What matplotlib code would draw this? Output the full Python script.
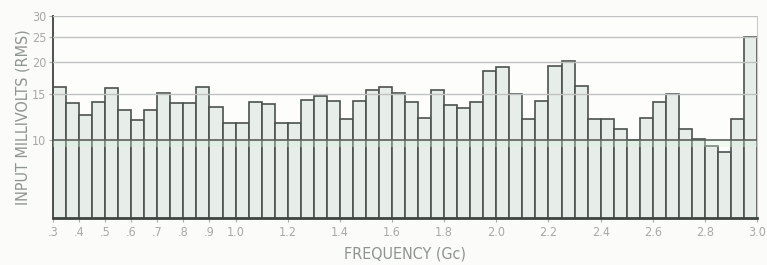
import numpy as np
import matplotlib.pyplot as plt
from matplotlib.ticker import FixedLocator, NullLocator

# bar heights, one per 0.05 Gc step from 0.3 to 3.0 Gc
start_gc = 0.3
step_gc = 0.05
millivolts = [16.0, 13.9, 12.5, 14.0, 15.8, 13.0, 11.9, 13.0, 15.1, 13.9,
              13.9, 16.0, 13.4, 11.6, 11.6, 14.0, 13.7, 11.6, 11.6, 14.2,
              14.7, 14.1, 12.0, 14.1, 15.5, 16.0, 15.2, 14.0, 12.1, 15.5,
              13.6, 13.3, 14.0, 18.4, 19.1, 15.0, 12.0, 14.1, 19.2, 20.1,
              16.1, 12.0, 12.0, 11.05, 10.0, 12.1, 14.0, 15.0, 11.0, 10.1,
              9.5, 9.0, 12.0, 25.0]

x_ticks = [0.3, 0.4, 0.5, 0.6, 0.7, 0.8, 0.9, 1.0, 1.2, 1.4, 1.6, 1.8,
           2.0, 2.2, 2.4, 2.6, 2.8, 3.0]
x_labels = ['.3', '.4', '.5', '.6', '.7', '.8', '.9', '1.0', '1.2', '1.4',
            '1.6', '1.8', '2.0', '2.2', '2.4', '2.6', '2.8', '3.0']
y_ticks = [10, 15, 20, 25, 30]
y_labels = ['10', '15', '20', '25', '30']

plt.rcParams['font.family'] = ['DejaVu Sans']
plt.rcParams['font.stretch'] = 'condensed'

fig = plt.figure(figsize=(7.67, 2.65), dpi=100, facecolor='#fbfbfa')
ax = fig.add_axes([0.0691, 0.1774, 0.918, 0.7622])
ax.set_facecolor('#fdfdfc')

edges = start_gc + step_gc * np.arange(len(millivolts))
ax.bar(edges, millivolts, width=step_gc, align='edge', color='#e7ede9',
       edgecolor='#4c514e', linewidth=1.2, zorder=2)

ax.set_yscale('log')
ax.set_ylim(5, 30)
ax.set_xlim(0.3, 3.0)

# faint green tint just under the 10 mV line
ax.axhspan(9.4, 10, color='#d6f2da', alpha=0.35, lw=0, zorder=3)
for v in [15, 20, 25, 30]:
    ax.axhline(v, color='#bfc2c0', lw=1.0, zorder=3)
ax.axhline(10, color='#5a5f5c', lw=1.2, zorder=3)

ax.yaxis.set_major_locator(FixedLocator(y_ticks))
ax.yaxis.set_minor_locator(NullLocator())
ax.set_yticklabels(y_labels)
ax.set_xticks(x_ticks)
ax.set_xticklabels(x_labels)

ax.tick_params(axis='both', colors='#a6a9a7', labelsize=9, length=3, width=0.8)
ax.tick_params(axis='y', pad=2)
ax.tick_params(axis='x', pad=3)

ax.spines['top'].set_visible(False)
ax.spines['right'].set_color('#c8cac9')
ax.spines['left'].set_color('#4c514e')
ax.spines['left'].set_linewidth(1.4)
ax.spines['bottom'].set_color('#3f4441')
ax.spines['bottom'].set_linewidth(2.0)

ax.set_xlabel('FREQUENCY (Gc)', color='#8e9491', fontsize=11.5, labelpad=5)
ax.set_ylabel('INPUT MILLIVOLTS (RMS)', color='#8e9491', fontsize=11.5, labelpad=1)

fig.savefig('out.png', dpi=100, facecolor=fig.get_facecolor())
